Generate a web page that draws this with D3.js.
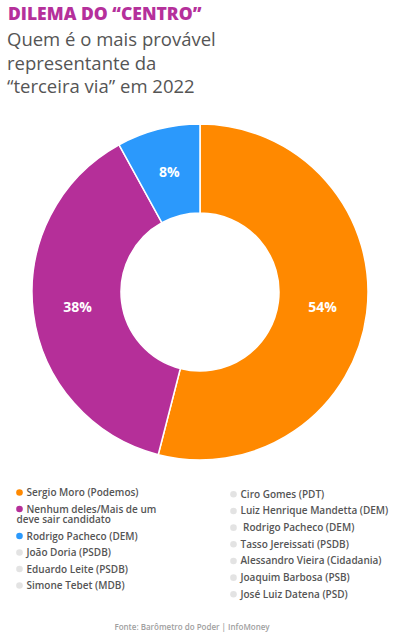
<!DOCTYPE html>
<html>
<head>
<meta charset="utf-8">
<script src="https://cdn.jsdelivr.net/npm/d3@7"></script>
<style>
  body { margin: 0; background: #fff; }
  .chart text { font-family: 'Open Sans', sans-serif; }
</style>
</head>
<body>
<div class="chart"></div>
<script>
// data
var categories = [
  'Sergio Moro (Podemos)',
  'Nenhum deles/Mais de um deve sair candidato',
  'Rodrigo Pacheco (DEM)',
  'João Doria (PSDB)',
  'Eduardo Leite (PSDB)',
  'Simone Tebet (MDB)',
  'Ciro Gomes (PDT)',
  'Luiz Henrique Mandetta (DEM)',
  ' Rodrigo Pacheco (DEM)',
  'Tasso Jereissati (PSDB)',
  'Alessandro Vieira (Cidadania)',
  'Joaquim Barbosa (PSB)',
  'José Luiz Datena (PSD)'
];
var values = [54, 38, 8, 0, 0, 0, 0, 0, 0, 0, 0, 0, 0];
var colors = ['#ff8900', '#b52f99', '#2b99fc'];
var otherColor = '#e3e3e3';

var title = 'DILEMA DO “CENTRO”';
var subtitle = ['Quem é o mais provável', 'representante da', '“terceira via” em 2022'];
var source = 'Fonte: Barômetro do Poder | InfoMoney';

var width = 399,
  height = 636,
  cx = 200,
  cy = 292,
  outerRadius = 168,
  innerRadius = 79;

var data = categories.map((c, i) => ({ name: c, value: values[i], i: i }));

var svg = d3.select('.chart')
  .append('svg')
    .attr('width', width)
    .attr('height', height);

// heading
svg.append('text')
  .attr('x', 8)
  .attr('y', 20)
  .style('font-size', '17.5px')
  .style('font-weight', 800)
  .style('fill', '#b5309b')
  .text(title);

svg.append('text')
  .attr('x', 7)
  .style('font-size', '18.5px')
  .style('fill', '#555')
  .selectAll('tspan')
  .data(subtitle)
  .enter()
  .append('tspan')
    .attr('x', 7)
    .attr('y', (d, i) => 46 + i * 23.5)
    .text(d => d);

// donut
var color = d => d.i < colors.length ? colors[d.i] : otherColor;

var pie = d3.pie()
  .sort(null)
  .value(d => d.value);

var arc = d3.arc()
  .innerRadius(innerRadius)
  .outerRadius(outerRadius);

var slices = pie(data).filter(d => d.data.value > 0);

var donut = svg.append('g')
  .attr('transform', `translate(${cx}, ${cy})`);

donut.selectAll('.slice')
  .data(slices)
  .enter()
  .append('path')
    .attr('class', 'slice')
    .attr('d', arc)
    .style('fill', d => color(d.data))
    .style('stroke', '#fff')
    .style('stroke-width', 1.5);

donut.selectAll('.label')
  .data(slices)
  .enter()
  .append('text')
    .attr('class', 'label')
    .attr('transform', d => `translate(${arc.centroid(d)})`)
    .attr('dy', '.35em')
    .style('text-anchor', 'middle')
    .style('font-size', '14px')
    .style('font-weight', 700)
    .style('fill', '#fff')
    .text(d => d.data.value + '%');

// legend, two columns
var leftCount = 6;
var legend = svg.selectAll('.legend')
  .data(data)
  .enter()
  .append('g')
    .attr('class', 'legend');

legend.append('circle')
  .attr('r', 3.3)
  .style('fill', d => color(d));

legend.append('text')
  .attr('x', 7)
  .attr('dy', '.35em')
  .style('font-size', '10px')
  .style('font-weight', 600)
  .style('fill', '#555')
  .style('white-space', 'pre')
  .text(d => d.name)
  .each(wrap);

// place the rows, taller rows push the next ones down
var yLeft = 492.5, yRight = 494.3;
legend.attr('transform', function(d) {
  var lines = d3.select(this).selectAll('tspan').size() || 1;
  var t;
  if (d.i < leftCount) {
    t = `translate(19.5, ${yLeft})`;
    yLeft += 16.5 + (lines - 1) * 10.5;
  } else {
    t = `translate(233.5, ${yRight})`;
    yRight += 16.67;
  }
  return t;
});

// source
svg.append('text')
  .attr('x', 192)
  .attr('y', 630)
  .style('text-anchor', 'middle')
  .style('font-size', '8px')
  .style('font-weight', 600)
  .style('fill', '#a0a0a0')
  .text(source);

// break long legend labels, next lines start under the dot
function wrap() {
  var text = d3.select(this),
    words = text.text().split(' '),
    maxWidth = 150;
  if (this.getComputedTextLength() <= maxWidth) return;
  text.text(null);
  var line = [],
    lineNo = 0,
    tspan = text.append('tspan').attr('x', 7).attr('dy', '.35em');
  words.forEach(w => {
    line.push(w);
    tspan.text(line.join(' '));
    if (tspan.node().getComputedTextLength() > maxWidth && line.length > 1) {
      line.pop();
      tspan.text(line.join(' '));
      line = [w];
      lineNo++;
      tspan = text.append('tspan')
        .attr('x', -3)
        .attr('y', lineNo * 10.5)
        .attr('dy', '.35em')
        .text(w);
    }
  });
}
</script>
</body>
</html>
